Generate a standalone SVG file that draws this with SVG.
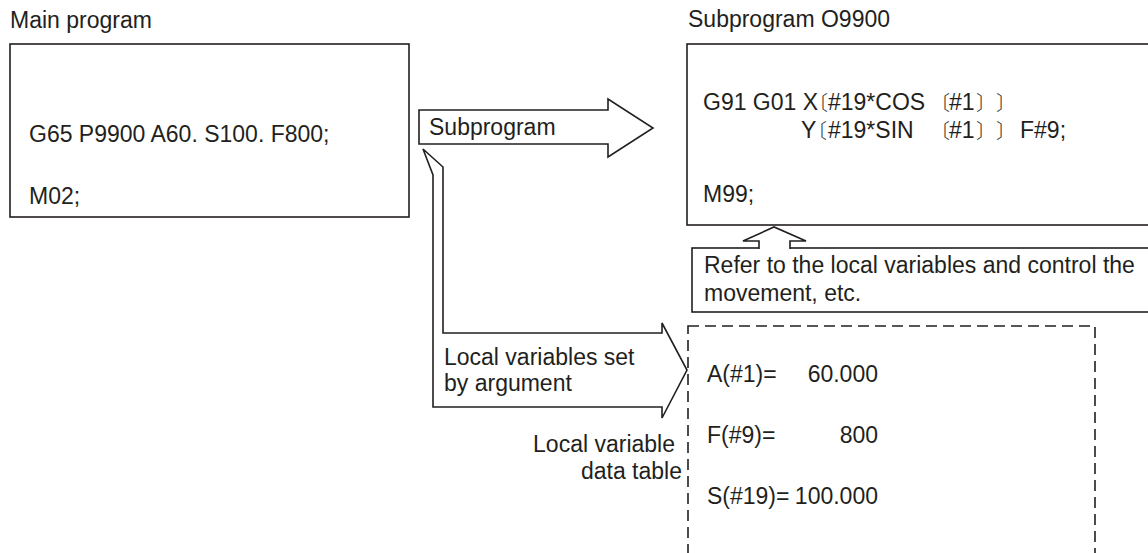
<svg xmlns="http://www.w3.org/2000/svg" width="1148" height="553" viewBox="0 0 1148 553">
<style>
text{font-family:"Liberation Sans",Arial,sans-serif;font-size:23px;fill:#231f20}
.br{font-family:"Noto Sans CJK JP","Noto Sans CJK SC",sans-serif;font-size:20px;font-weight:300;font-feature-settings:"halt"}
.box{fill:#fff;stroke:#231f20;stroke-width:1.6}
.dash{fill:none;stroke:#231f20;stroke-width:1.6;stroke-dasharray:11 6}
.arr{fill:#fff;stroke:#231f20;stroke-width:1.6;stroke-linejoin:miter}
</style>
<rect width="1148" height="553" fill="#fff"/>
<g id="main-program">
  <text x="10" y="28">Main program</text>
  <rect class="box" x="10" y="44" width="399" height="173"/>
  <text x="29" y="142">G65 P9900 A60. S100. F800;</text>
  <text x="29" y="204">M02;</text>
</g>
<g id="subprogram">
  <text x="688" y="27">Subprogram O9900</text>
  <rect class="box" x="687" y="44" width="480" height="181"/>
  <text x="703" y="110">G91 G01 X<tspan class="br">〔</tspan><tspan x="828">#19*COS</tspan><tspan class="br" x="940">〔</tspan><tspan x="949">#1</tspan><tspan class="br" x="976">〕</tspan><tspan class="br" x="996">〕</tspan></text>
  <text x="801" y="138">Y<tspan class="br" x="817">〔</tspan><tspan x="828">#19*SIN</tspan><tspan class="br" x="940">〔</tspan><tspan x="949">#1</tspan><tspan class="br" x="976">〕</tspan><tspan class="br" x="996">〕</tspan><tspan x="1020">F#9;</tspan></text>
  <text x="703" y="202">M99;</text>
</g>
<g id="refer-note">
  <rect class="box" x="692" y="248" width="480" height="64"/>
  <text x="704" y="273">Refer to the local variables and control the</text>
  <text x="704" y="301">movement, etc.</text>
</g>
<g id="data-table">
  <rect class="dash" x="688" y="326" width="407" height="260"/>
  <text x="707" y="382">A(#1)=</text>
  <text x="878" y="382" text-anchor="end">60.000</text>
  <text x="707" y="443">F(#9)=</text>
  <text x="878" y="443" text-anchor="end">800</text>
  <text x="707" y="504">S(#19)=</text>
  <text x="878" y="504" text-anchor="end">100.000</text>
  <text x="675" y="452" text-anchor="end">Local variable</text>
  <text x="682" y="479" text-anchor="end">data table</text>
</g>
<g id="connectors">
  <g id="call-arrow">
    <polygon class="arr" points="419,110 608,110 608,99 653,128 608,157 608,144 419,144"/>
    <text x="429" y="135">Subprogram</text>
  </g>
  <g id="argument-arrow">
    <polygon class="arr" points="423,149 443,167 443,333 662,333 662,323 687,370 662,418 662,407 433,407 433,175"/>
    <text x="444" y="365">Local variables set</text>
    <text x="444" y="391">by argument</text>
  </g>
  <g id="refer-arrow">
    <polyline class="arr" points="759,249 759,241 743,241 774,227 806,241 790,241 790,249"/>
  </g>
</g>
</svg>
